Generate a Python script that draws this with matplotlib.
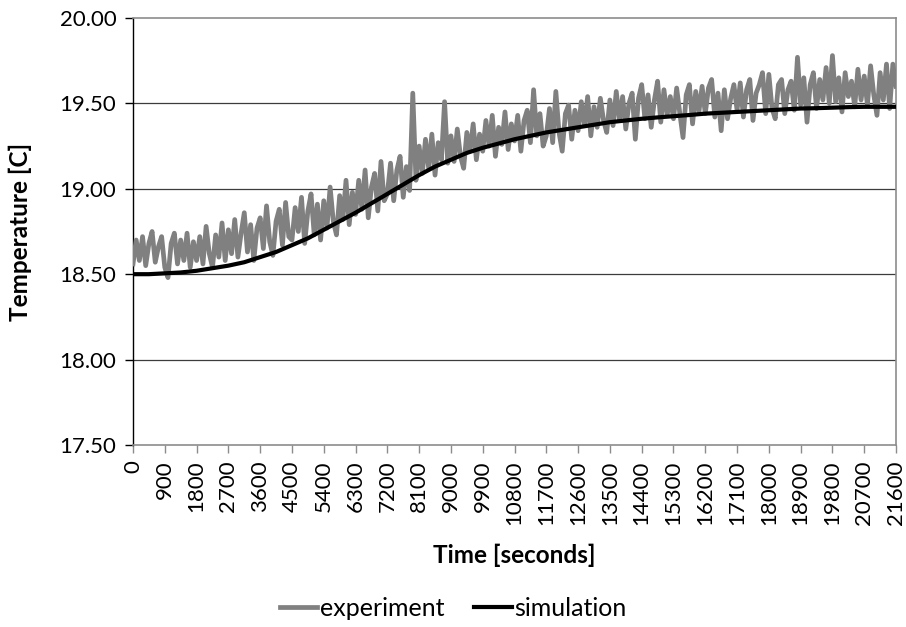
import numpy as np
import matplotlib.pyplot as plt

plt.rcParams['font.family'] = ['Lato', 'DejaVu Sans']

# measured temperature, one reading every 90 s (rows of 900 s)
exp_step = 90
exp_temp = [
    18.56, 18.70, 18.58, 18.72, 18.55, 18.68, 18.75, 18.57, 18.66, 18.72,
    18.54, 18.48, 18.68, 18.74, 18.56, 18.70, 18.58, 18.74, 18.54, 18.69,
    18.58, 18.72, 18.56, 18.78, 18.62, 18.54, 18.73, 18.60, 18.80, 18.58,
    18.76, 18.62, 18.82, 18.60, 18.74, 18.86, 18.63, 18.79, 18.58, 18.77,
    18.83, 18.65, 18.90, 18.69, 18.61, 18.81, 18.88, 18.67, 18.92, 18.72,
    18.70, 18.89, 18.75, 18.95, 18.68, 18.87, 18.97, 18.73, 18.91, 18.70,
    18.93, 18.77, 19.01, 18.81, 18.73, 18.96, 18.82, 19.05, 18.79, 18.98,
    18.85, 19.05, 18.88, 19.11, 18.83, 19.01, 19.09, 18.87, 19.16, 18.93,
    18.97, 19.15, 18.93, 19.11, 19.19, 18.95, 19.13, 18.99, 19.56, 19.05,
    19.25, 19.09, 19.29, 19.12, 19.32, 19.08, 19.27, 19.17, 19.51, 19.15,
    19.31, 19.16, 19.35, 19.19, 19.12, 19.33, 19.22, 19.38, 19.17, 19.32,
    19.22, 19.40, 19.25, 19.43, 19.19, 19.36, 19.26, 19.45, 19.23, 19.38,
    19.28, 19.43, 19.22, 19.40, 19.46, 19.27, 19.58, 19.31, 19.44, 19.25,
    19.31, 19.47, 19.27, 19.57, 19.33, 19.22, 19.44, 19.49, 19.29, 19.46,
    19.34, 19.51, 19.37, 19.54, 19.31, 19.48, 19.36, 19.53, 19.40, 19.33,
    19.52, 19.37, 19.57, 19.40, 19.54, 19.35, 19.50, 19.56, 19.29, 19.53,
    19.61, 19.41, 19.55, 19.36, 19.52, 19.63, 19.39, 19.58, 19.43, 19.54,
    19.41, 19.59, 19.44, 19.30, 19.55, 19.61, 19.38, 19.57, 19.45, 19.60,
    19.44, 19.59, 19.64, 19.42, 19.56, 19.34, 19.58, 19.41, 19.53, 19.61,
    19.46, 19.62, 19.42, 19.58, 19.64, 19.40, 19.56, 19.61, 19.68, 19.44,
    19.67, 19.47, 19.41, 19.61, 19.64, 19.44, 19.58, 19.63, 19.46, 19.77,
    19.49, 19.65, 19.39, 19.61, 19.68, 19.47, 19.64, 19.52, 19.71, 19.50,
    19.78, 19.51, 19.65, 19.45, 19.68, 19.54, 19.63, 19.48, 19.70, 19.52,
    19.66, 19.49, 19.72, 19.55, 19.43, 19.68, 19.52, 19.73, 19.47, 19.73,
    19.60,
]

# simulated temperature, every 450 s
sim_step = 450
sim_temp = [
    18.50, 18.50, 18.505, 18.51, 18.52, 18.535, 18.55, 18.57, 18.60, 18.63,
    18.67, 18.71, 18.76, 18.81, 18.86, 18.915, 18.97, 19.025, 19.08, 19.13,
    19.17, 19.21, 19.24, 19.265, 19.29, 19.31, 19.33, 19.345, 19.36, 19.375,
    19.39, 19.40, 19.41, 19.418, 19.425, 19.432, 19.44, 19.445, 19.45, 19.455,
    19.46, 19.465, 19.47, 19.472, 19.475, 19.478, 19.48, 19.48, 19.48,
]

time_ticks = list(range(0, 21601, 900))
temp_ticks = [17.5, 18.0, 18.5, 19.0, 19.5, 20.0]

exp_time = np.arange(len(exp_temp)) * exp_step
sim_time = np.arange(len(sim_temp)) * sim_step

fig = plt.figure(figsize=(9.06, 6.27), dpi=100)
ax = fig.add_axes([0.1468, 0.2903, 0.8422, 0.681])

ax.plot(exp_time, exp_temp, color='#808080', lw=3.4, label='experiment',
        solid_joinstyle='round', zorder=3)
ax.plot(sim_time, sim_temp, color='black', lw=3.0, label='simulation', zorder=4)

ax.set_xlim(0, 21600)
ax.set_ylim(17.5, 20.0)
ax.set_xticks(time_ticks)
ax.set_xticklabels([str(t) for t in time_ticks], rotation=90, fontsize=16)
ax.set_yticks(temp_ticks)
ax.set_yticklabels(['%.2f' % v for v in temp_ticks], fontsize=16)

for v in temp_ticks[1:-1]:
    ax.axhline(v, color='#3c3c3c', lw=0.9, zorder=1)

ax.spines['left'].set_color('black')
ax.spines['left'].set_linewidth(1.0)
for s in ['top', 'right', 'bottom']:
    ax.spines[s].set_color('#8c8c8c')
    ax.spines[s].set_linewidth(1.2)

ax.tick_params(axis='y', direction='out', length=6, width=1.0, color='black', pad=6)
ax.tick_params(axis='x', direction='out', length=6, width=1.0, color='#8c8c8c', pad=5)

ax.set_xlabel('Time [seconds]', fontsize=17.5, fontweight='bold')
ax.set_ylabel('Temperature [C]', fontsize=17.5, fontweight='bold')
ax.xaxis.set_label_coords(0.5, -0.232)
ax.yaxis.set_label_coords(-0.132, 0.5)

fig.legend(loc='center', bbox_to_anchor=(0.5, 0.03), ncol=2, frameon=False,
           fontsize=18, handlelength=1.5, handletextpad=0.1, columnspacing=1.2)

fig.savefig('out.png', dpi=100)
